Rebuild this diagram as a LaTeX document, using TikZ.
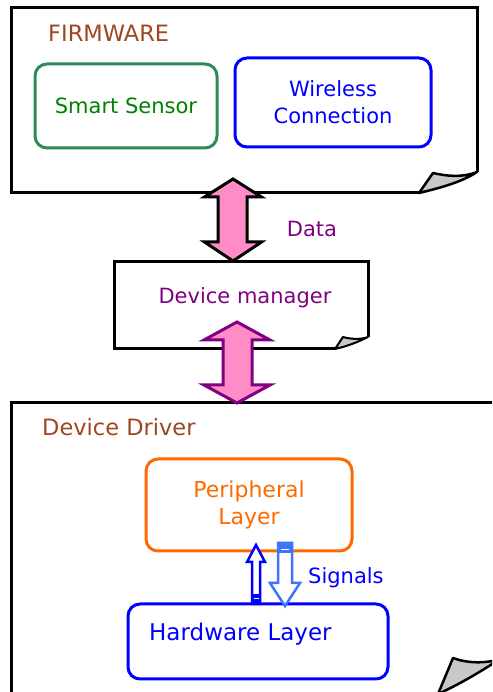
\documentclass[tikz,border=0pt]{standalone}
\usepackage{fontspec}
\setmainfont{DejaVu Sans}
\usetikzlibrary{calc}

\definecolor{titlebrown}{HTML}{A0461E}
\definecolor{sensorgreen}{HTML}{2E8B57}
\definecolor{sensortext}{HTML}{008000}
\definecolor{linkblue}{HTML}{0000FF}
\definecolor{periorange}{HTML}{FF6A00}
\definecolor{mgrpurple}{HTML}{800080}
\definecolor{arrowpink}{HTML}{FF8CC6}
\definecolor{lightblue}{HTML}{3F74FF}
\definecolor{flapgray}{HTML}{C8C8C8}

\tikzset{
  note/.style={draw=black, line width=3pt, line join=miter},
  flap/.style={draw=black, fill=flapgray, line width=2.5pt, line join=round},
  modbox/.style={rounded corners=12pt, line width=3pt, fill=white},
  label/.style={font=\fontsize{21}{27}\selectfont, inner sep=0pt, align=center},
  biglabel/.style={label, font=\fontsize{22.5}{27}\selectfont},
  bigarrow/.style={fill=arrowpink, line width=3pt, line join=miter},
}

\begin{document}
\begin{tikzpicture}[x=1pt,y=1pt]
\useasboundingbox (0,0) rectangle (492,692);
\clip (0,0) rectangle (492,692);

% ---- FIRMWARE note with curled corner ----
\draw[note] (419,499) -- (11,499) -- (11,684) -- (477,684) -- (477,520);
\draw[flap] (477,520) .. controls (462,514) and (446,516) .. (433,519)
  -- (419,499) .. controls (440,504) and (462,510) .. cycle;
\node[biglabel, anchor=west, text=titlebrown] (fw) at (48,659) {FIRMWARE};

\node[modbox, draw=sensorgreen, minimum width=182pt, minimum height=84pt]
  (sensor) at (126,586) {};
\node[label, text=sensortext] (sensortxt) at (sensor.center) {Smart Sensor};
\node[modbox, draw=linkblue, minimum width=196pt, minimum height=89pt]
  (wireless) at (333,589.5) {};
\node[label, text=linkblue] (wirelesstxt) at (wireless.center) {Wireless\\Connection};

% ---- Device manager note ----
\draw[note] (335,343) -- (114,343) -- (114,430) -- (368,430) -- (368,355);
\draw[flap, line width=2pt] (368,355) .. controls (360,352) and (350,353) .. (343,355)
  -- (335,343) .. controls (348,346) and (358,350) .. cycle;
\node[label, text=mgrpurple] (mgr) at (245,394) {Device manager};

% ---- Device Driver note (runs past the lower and right edges) ----
\draw[note] (11,-10) -- (11,289) -- (500,289);
\draw[flap] (500,33) .. controls (485,28) and (466,29) .. (453,34)
  -- (438,-2) .. controls (460,8) and (480,20) .. (500,33);
\node[biglabel, anchor=west, text=titlebrown] (dd) at (42,265) {Device Driver};

\node[modbox, draw=periorange, minimum width=206pt, minimum height=92pt]
  (peri) at (249,187) {};
\node[label, font=\fontsize{22}{27}\selectfont, text=periorange] (peritxt)
  at (peri.center) {Peripheral\\Layer};
\node[modbox, draw=linkblue, minimum width=260pt, minimum height=75pt]
  (hw) at (258,50.5) {};
\node[label, font=\fontsize{23}{27}\selectfont, text=linkblue, anchor=west]
  (hwtxt) at (149,58) {Hardware Layer};

% ---- Data exchange between firmware and manager ----
\draw[bigarrow, draw=black]
  (233,513) -- (261.5,495) -- (247,495) -- (247,450) -- (261.5,450)
  -- (233,431) -- (204.5,450) -- (218,450) -- (218,495) -- (204.5,495) -- cycle;
\node[label, text=mgrpurple] (data) at (312,463) {Data};

% ---- Manager to driver link ----
\draw[bigarrow, draw=mgrpurple]
  (237,370) -- (270,352) -- (252,352) -- (252,307) -- (270,307)
  -- (237,289) -- (204,307) -- (223,307) -- (223,352) -- (204,352) -- cycle;

% ---- Signals between hardware and peripheral layers ----
\draw[linkblue, fill=white, line width=2.5pt, line join=miter]
  (256,147) -- (265,130) -- (260,130) -- (260,88) -- (252,88) -- (252,130)
  -- (247,130) -- cycle;
\fill[linkblue] (251,88) rectangle (261,98);
\draw[white, line width=1pt] (253.5,93.5) -- (258.5,93.5);

\draw[lightblue, fill=white, line width=2.5pt, line join=miter]
  (285,86) -- (300,109) -- (292,109) -- (292,149) -- (278,149) -- (278,109)
  -- (270,109) -- cycle;
\fill[lightblue] (277,139) rectangle (293,150);
\draw[white, line width=1pt] (281,142.5) -- (289,142.5);
\node[label, text=linkblue, anchor=west] (sig) at (308,114) {Signals};

\end{tikzpicture}
\end{document}
